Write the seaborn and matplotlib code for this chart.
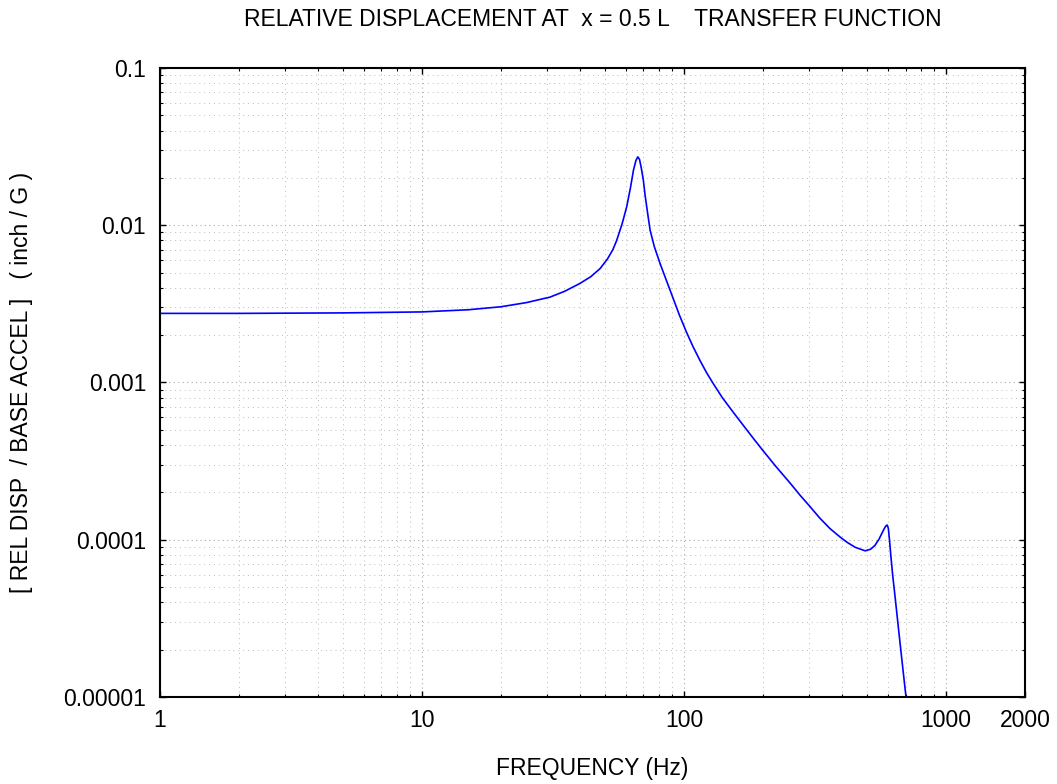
import numpy as np
import pandas as pd
import matplotlib
matplotlib.use("Agg")
import matplotlib.pyplot as plt
import seaborn as sns
from matplotlib.ticker import FixedLocator, FixedFormatter, LogLocator, NullFormatter

freq_hz = [1, 2, 5, 10, 15, 20, 25, 30.8, 35, 40, 44, 47.8, 51, 53.5, 55.3, 58, 60.4,
           62.5, 64.1, 65.5, 66.6, 67.6, 68.7, 69.9, 71, 72.5, 74.2, 77, 81, 85, 91,
           96, 102, 108, 115, 122, 129.4, 140, 154, 170, 185, 200.8, 225, 254, 277,
           300, 330, 360, 394, 420, 450, 491, 515, 535, 555, 575, 588, 596, 602,
           608, 615, 625, 640, 660, 680, 703, 730]
rel_disp = [0.00275, 0.00275, 0.00277, 0.00281, 0.00290, 0.00303, 0.00322, 0.00349,
            0.00380, 0.00426, 0.00470, 0.0053, 0.0061, 0.0070, 0.0080, 0.0102, 0.0131,
            0.0175, 0.0224, 0.0258, 0.0272, 0.0262, 0.0230, 0.0194, 0.0155, 0.0121,
            0.0093, 0.0073, 0.0057, 0.0046, 0.00340, 0.00268, 0.00210, 0.00170,
            0.00138, 0.00115, 0.00098, 0.00080, 0.000647, 0.000522, 0.000435,
            0.000366, 0.000290, 0.000229, 0.000192, 0.000165, 0.000137, 0.000118,
            0.000104, 0.000096, 0.0000895, 0.000085, 0.000087, 0.000092, 0.000101,
            0.000114, 0.000122, 0.000124, 0.000118, 0.000100, 0.000080, 0.000060,
            0.000042, 0.000026, 0.0000165, 0.0000100, 0.0000060]

x_ticks = [1, 10, 100, 1000, 2000]
x_labels = ["1", "10", "100", "1000", "2000"]
y_ticks = [1e-5, 1e-4, 1e-3, 1e-2, 1e-1]
y_labels = ["0.00001", "0.0001", "0.001", "0.01", "0.1"]

sns.set_style("white")
plt.rcParams['font.family'] = ['Liberation Sans', 'DejaVu Sans']
plt.rcParams['text.color'] = 'black'
plt.rcParams['axes.labelcolor'] = 'black'
plt.rcParams['xtick.color'] = 'black'
plt.rcParams['ytick.color'] = 'black'

fig = plt.figure(figsize=(10.57, 7.84), dpi=100)
ax = fig.add_axes([0.1514, 0.111, 0.8183, 0.8023])

df = pd.DataFrame({"f": freq_hz, "d": rel_disp})
sns.lineplot(data=df, x="f", y="d", ax=ax, color="#0000ff", linewidth=1.2,
             estimator=None, sort=False)

ax.set_xscale("log")
ax.set_yscale("log")
ax.set_xlim(1, 2000)
ax.set_ylim(1e-5, 0.1)

ax.xaxis.set_major_locator(FixedLocator(x_ticks))
ax.xaxis.set_major_formatter(FixedFormatter(x_labels))
ax.yaxis.set_major_locator(FixedLocator(y_ticks))
ax.yaxis.set_major_formatter(FixedFormatter(y_labels))
ax.xaxis.set_minor_locator(LogLocator(base=10, subs=np.arange(2, 10), numticks=20))
ax.yaxis.set_minor_locator(LogLocator(base=10, subs=np.arange(2, 10), numticks=20))
ax.xaxis.set_minor_formatter(NullFormatter())
ax.yaxis.set_minor_formatter(NullFormatter())

ax.grid(True, which="major", color="#aaaaaa", linestyle=(0, (1, 3)), linewidth=0.8)
ax.grid(True, which="minor", color="#bbbbbb", linestyle=(0, (1, 4)), linewidth=0.7)

ax.tick_params(which="both", direction="in", top=True, right=True,
               bottom=True, left=True, colors="black", labelcolor="black")
ax.tick_params(which="major", length=4, width=1, labelsize=16.5)
ax.tick_params(axis="x", which="major", pad=9)
ax.tick_params(axis="y", which="major", pad=10)
ax.tick_params(which="minor", length=2.5, width=0.8)

for s in ax.spines.values():
    s.set_color("black")
    s.set_linewidth(1.5)

ax.set_xlabel("FREQUENCY (Hz)", fontsize=16.5, labelpad=18, color="black")
ax.set_ylabel("[ REL DISP  / BASE ACCEL ]   ( inch / G )", fontsize=16.5, labelpad=22,
              color="black")
ax.set_title("RELATIVE DISPLACEMENT AT  x = 0.5 L    TRANSFER FUNCTION", fontsize=16.5,
             pad=30, color="black")

fig.savefig("out.png", dpi=100, facecolor="white")
